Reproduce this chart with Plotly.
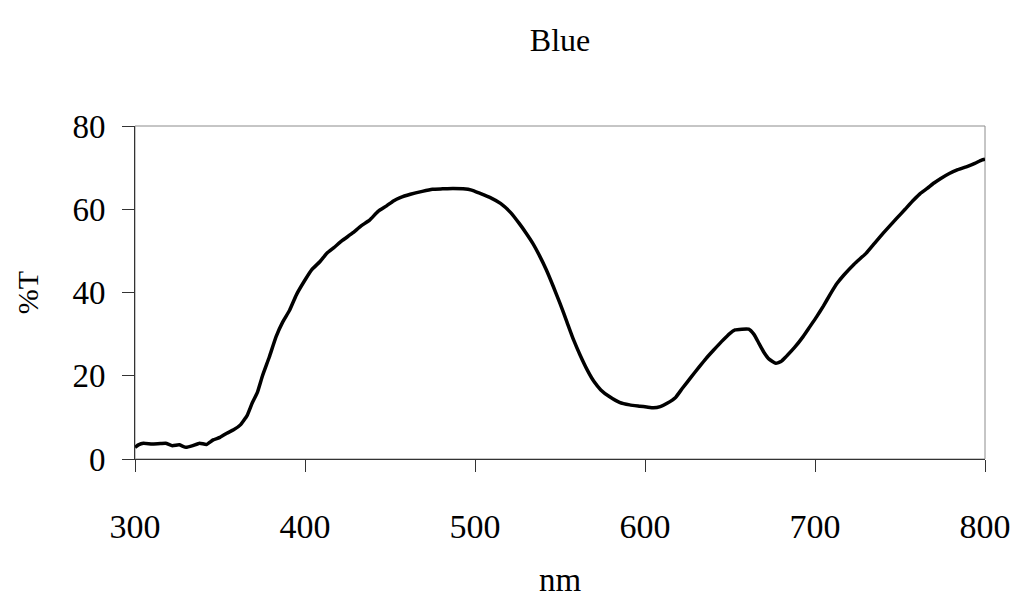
import plotly.graph_objects as go

wavelength = [300, 302, 305, 310, 315, 318, 322, 326, 330, 334, 338, 342, 346, 350, 354, 358, 362, 366, 369,
              372, 375, 379, 383, 387, 391, 395, 400, 404, 409, 413, 417, 422, 428, 433, 438, 443, 448, 452,
              456, 462, 469, 475, 481, 487, 493, 498, 503, 509, 515, 521, 526, 530, 534, 538, 542, 546, 550,
              554, 558, 562, 566, 570, 574, 579, 585, 591, 597, 601, 605, 609, 613, 618, 622, 627, 632, 636,
              640, 645, 650, 653, 657, 661, 664, 667, 670, 673, 677, 680, 683, 688, 693, 697, 701, 705, 709,
              713, 717, 723, 730, 735, 740, 744, 748, 753, 758, 762, 766, 770, 774, 779, 784, 789, 794, 798, 800]
transmittance = [2.8, 3.4, 3.8, 3.6, 3.7, 3.8, 3.2, 3.4, 2.8, 3.2, 3.8, 3.5, 4.6, 5.2, 6.2, 7.0, 8.2, 10.5, 13.5,
                 16.0, 20.0, 24.5, 29.4, 33.0, 35.8, 39.5, 43.0, 45.5, 47.5, 49.5, 50.8, 52.5, 54.3, 56.0, 57.4, 59.5,
                 60.8, 62.0, 62.8, 63.6, 64.3, 64.8, 64.9, 65.0, 64.9, 64.6, 63.8, 62.8, 61.4, 59.2, 56.6, 54.3, 51.8,
                 48.8, 45.4, 41.5, 37.4, 33.0, 28.6, 24.8, 21.4, 18.6, 16.6, 15.0, 13.6, 13.0, 12.7, 12.5, 12.3, 12.6,
                 13.4, 14.8, 17.0, 19.6, 22.2, 24.2, 26.0, 28.2, 30.2, 31.0, 31.2, 31.2, 30.0, 27.8, 25.6, 24.0, 23.0,
                 23.4, 24.6, 26.8, 29.4, 31.8, 34.2, 36.8, 39.6, 42.2, 44.2, 46.8, 49.4, 51.8, 54.2, 56.0, 57.8,
                 60.0, 62.2, 63.8, 65.0, 66.3, 67.4, 68.6, 69.5, 70.2, 71.0, 71.8, 72.0]

title_text = "Blue"
x_title = "nm"
y_title = "%T"
x_ticks = [300, 400, 500, 600, 700, 800]
y_ticks = [0, 20, 40, 60, 80]

FONT = "Liberation Serif"

fig = go.Figure()
fig.add_trace(go.Scatter(
    x=wavelength, y=transmittance, mode="lines",
    line=dict(color="black", width=3.5, shape="spline", smoothing=0.4),
    showlegend=False, hoverinfo="skip",
))

fig.add_shape(type="rect", xref="paper", yref="paper", x0=0, y0=0, x1=1, y1=1,
              line=dict(color="#8c8c8c", width=1), layer="below")

fig.update_layout(
    width=1018, height=603,
    margin=dict(l=135, r=33, t=126, b=144, autoexpand=False),
    paper_bgcolor="white", plot_bgcolor="white",
    font=dict(family=FONT, color="black"),
    title=dict(text=title_text, x=(135 + 985) / 2 / 1018, xanchor="center",
               y=1 - 40 / 603, yanchor="middle", font=dict(family=FONT, size=32, color="black")),
    xaxis=dict(
        range=[300, 800], tickvals=x_ticks, ticktext=[str(v) for v in x_ticks],
        showgrid=False, zeroline=False, showline=True, linecolor="#333333", linewidth=1,
        ticks="outside", ticklen=12, tickcolor="#333333", tickwidth=1, automargin=False,
        tickfont=dict(family=FONT, size=34, color="black"), ticklabelstandoff=25,
        title=dict(text=x_title, font=dict(family=FONT, size=33, color="black"), standoff=24),
    ),
    yaxis=dict(
        range=[0, 80], tickvals=y_ticks, ticktext=[str(v) for v in y_ticks],
        showgrid=False, zeroline=False, showline=True, linecolor="#333333", linewidth=1,
        ticks="outside", ticklen=12, tickcolor="#333333", tickwidth=1, automargin=False,
        tickfont=dict(family=FONT, size=33, color="black"), ticklabelstandoff=10,
        title=dict(text=y_title, font=dict(family=FONT, size=30, color="black"), standoff=24),
    ),
)

fig.write_html("out.html")
